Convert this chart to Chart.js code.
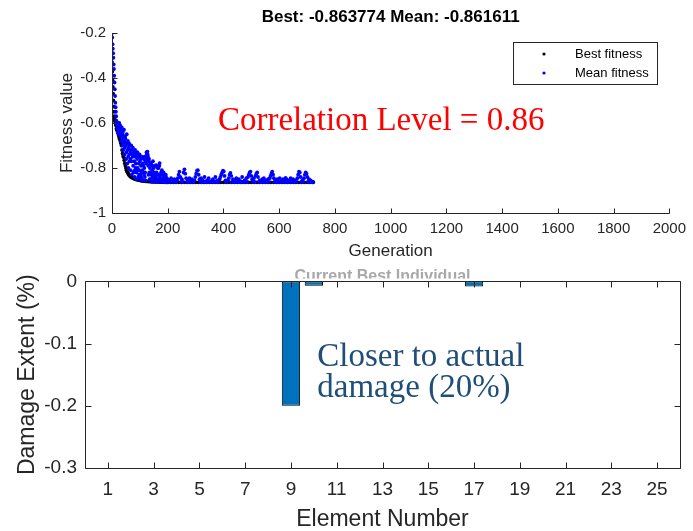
<!DOCTYPE html>
<html><head><meta charset="utf-8">
<script src="https://cdn.jsdelivr.net/npm/chart.js@4.4.1/dist/chart.umd.min.js"></script>
<style>
html,body{margin:0;padding:0;background:#fff;}
#wrap{position:relative;width:693px;height:531px;overflow:hidden;background:#fff;}
#c1{position:absolute;left:0;top:0;}
#c2{position:absolute;left:0;top:262px;}
</style></head><body>
<div id="wrap"><canvas id="c1" width="693" height="262"></canvas><canvas id="c2" width="693" height="269"></canvas></div>
<script>
// ---------- data: top panel (GA fitness history) ----------
const topTitle = 'Best: -0.863774 Mean: -0.861611';
const genTicks = [0,200,400,600,800,1000,1200,1400,1600,1800,2000];
const fitTicks = [-1,-0.8,-0.6,-0.4,-0.2];
const bestGen = [0,1,2,3,4,5,6,7,8,9,10,12,14,16,18,20,22,24,26,28,30,32,34,36,38,40,42,44,46,48,50,52,54,56,58,60,64,68,72,76,80,84,88,92,96,100,104,108,112,116,120,124,130,136,142,148,154,160,166,172,178,184,190,196,
200,210,220,230,240,250,260,270,280,290,300,310,320,330,340,350,360,370,380,390,400,410,420,430,440,450,460,470,480,490,500,510,520,530,540,550,560,570,580,590,600,610,620,630,640,650,660,670,680,690,700,710,720,722];
const bestFit = [-0.329,-0.372,-0.41,-0.44,-0.47,-0.50,-0.527,-0.55,-0.57,-0.58,-0.59,-0.60,-0.61,-0.625,-0.632,-0.64,-0.645,-0.655,-0.665,-0.672,-0.68,-0.69,-0.70,-0.72,-0.735,-0.745,-0.752,-0.765,-0.779,-0.79,-0.80,-0.81,-0.815,-0.82,-0.824,-0.83,-0.836,-0.84,-0.843,-0.846,-0.848,-0.85,-0.851,-0.852,-0.854,-0.855,-0.856,-0.857,-0.858,-0.858,-0.859,-0.859,-0.860,-0.860,-0.861,-0.861,-0.862,-0.862,-0.862,-0.863,-0.863,-0.863,-0.8635,-0.8636,
-0.8636,-0.8636,-0.8636,-0.8636,-0.8636,-0.8636,-0.8636,-0.8636,-0.8636,-0.8636,-0.8636,
-0.8637,-0.8637,-0.8637,-0.8637,-0.8637,-0.8637,-0.8637,-0.8637,-0.8637,-0.8637,-0.8637,-0.8637,-0.8637,-0.8637,-0.8637,-0.8637,-0.8637,-0.8637,-0.8637,-0.8637,
-0.8638,-0.8638,-0.8638,-0.8638,-0.8638,-0.8638,-0.8638,-0.8638,-0.8638,-0.8638,-0.8638,-0.8638,-0.8638,-0.8638,-0.8638,-0.8638,-0.8638,-0.8638,-0.8638,-0.8638,-0.8638,-0.8638,-0.863774];
const meanGen = [0,1,2,3,4,5,6,7,8,9,10,11,12,13,14,15,16,17,
18,20,22,24,26,28,30,32,34,36,38,40,42,44,46,48,50,52,54,56,58,60,62,64,66,68,70,72,74,76,78,80,82,84,86,88,90,92,94,96,
98,100,102,104,106,108,110,112,114,116,118,120,122,124,126,128,130,132,134,136,138,140,142,144,146,148,150,152,154,156,
158,160,162,164,166,168,170,172,174,176,178,180,182,184,186,188,190,192,194,196,198,200,
203,206,209,212,215,218,221,224,227,230,233,236,239,242,245,248,251,254,257,260,263,266,269,272,275,278,281,284,287,290,
293,296,299,302,305,308,311,314,317,320,323,326,329,332,335,338,341,344,347,350,353,356,359,362,365,368,371,374,377,380,
383,386,389,392,395,398,401,404,407,410,413,416,419,422,425,428,431,434,437,440,443,446,449,452,455,458,461,464,467,470,
473,476,479,482,485,488,491,494,497,500,503,506,509,512,515,518,521,524,527,530,533,536,539,542,545,548,551,554,557,560,
563,566,569,572,575,578,581,584,587,590,593,596,599,602,605,608,611,614,617,620,623,626,629,632,635,638,641,644,647,650,
653,656,659,662,665,668,671,674,677,680,683,686,689,692,695,698,701,704,707,710,713,716,719,722];
const meanFit = [-0.20,-0.22,-0.25,-0.27,-0.29,-0.31,-0.34,-0.36,-0.39,-0.42,-0.45,-0.48,-0.51,-0.53,-0.55,-0.57,-0.59,-0.60,
-0.61,-0.60,-0.63,-0.62,-0.60,-0.64,-0.62,-0.66,-0.63,-0.67,
-0.65,-0.69,-0.66,-0.68,-0.71,-0.67,-0.70,-0.73,-0.69,-0.72,
-0.75,-0.71,-0.74,-0.70,-0.76,-0.73,-0.77,-0.72,-0.75,-0.79,
-0.74,-0.77,-0.81,-0.75,-0.78,-0.82,-0.76,-0.80,-0.84,-0.78,
-0.81,-0.77,-0.83,-0.79,-0.82,-0.85,-0.78,-0.82,-0.76,-0.80,
-0.84,-0.77,-0.75,-0.73,-0.76,-0.74,-0.79,-0.77,-0.82,-0.80,
-0.85,-0.78,-0.83,-0.81,-0.86,-0.84,-0.80,-0.85,-0.83,-0.86,
-0.79,-0.82,-0.85,-0.80,-0.86,-0.83,-0.79,-0.84,-0.86,-0.82,
-0.85,-0.86,-0.83,-0.86,-0.84,-0.86,-0.85,-0.862,-0.84,-0.86,
-0.862,-0.85,
-0.862,-0.855,-0.862,-0.845,-0.862,-0.858,-0.862,-0.85,-0.862,-0.862,
-0.855,-0.845,-0.83,-0.816,-0.84,-0.862,-0.85,-0.862,-0.82,-0.806,
-0.825,-0.845,-0.862,-0.855,-0.862,-0.845,-0.862,-0.862,-0.85,-0.862,
-0.862,-0.855,-0.84,-0.825,-0.812,-0.81,-0.83,-0.85,-0.862,-0.845,
-0.862,-0.855,-0.862,-0.84,-0.862,-0.862,-0.855,-0.862,-0.845,-0.862,
-0.862,-0.858,-0.862,-0.85,-0.862,-0.862,-0.84,-0.862,-0.855,-0.862,
-0.862,-0.85,-0.84,-0.83,-0.821,-0.812,-0.815,-0.835,-0.855,-0.862,
-0.862,-0.855,-0.845,-0.83,-0.822,-0.835,-0.862,-0.85,-0.862,-0.855,
-0.862,-0.845,-0.862,-0.862,-0.85,-0.862,-0.858,-0.862,-0.84,-0.862,
-0.862,-0.855,-0.862,-0.845,-0.862,-0.84,-0.83,-0.82,-0.816,-0.835,
-0.85,-0.862,-0.845,-0.862,-0.835,-0.825,-0.82,-0.84,-0.862,-0.855,
-0.862,-0.862,-0.85,-0.862,-0.845,-0.862,-0.862,-0.855,-0.862,-0.85,
-0.862,-0.845,-0.835,-0.825,-0.816,-0.83,-0.845,-0.862,-0.855,-0.862,
-0.85,-0.862,-0.862,-0.845,-0.862,-0.858,-0.862,-0.85,-0.862,-0.862,
-0.844,-0.85,-0.862,-0.862,-0.855,-0.862,-0.845,-0.862,-0.862,-0.85,
-0.862,-0.862,-0.855,-0.862,-0.845,-0.83,-0.816,-0.82,-0.84,-0.862,
-0.855,-0.862,-0.845,-0.83,-0.82,-0.825,-0.84,-0.862,-0.85,-0.862,
-0.855,-0.862,-0.862,-0.8616];
// mean fitness at the odd generations of the early, noisy phase
const meanGenOdd = [19,21,23,25,27,29,31,33,35,37,39,41,43,45,47,49,51,53,55,57,59,61,63,65,67,69,71,73,75,77,
79,81,83,85,87,89,91,93,95,97,99,101,103,105,107,109,111,113,115,117,119,121,123,125,127,129,131,133,135,137,
139,141,143,145,147,149,151,153,155,157,159,161,163,165,167,169,171,173,175,177,179,181,183,185,187,189,191,193,195,197,199];
const meanFitOdd = [-0.62,-0.64,-0.61,-0.65,-0.63,-0.61,-0.65,-0.68,-0.62,-0.70,
-0.64,-0.72,-0.63,-0.74,-0.66,-0.69,-0.76,-0.65,-0.78,-0.68,
-0.80,-0.69,-0.77,-0.72,-0.81,-0.70,-0.83,-0.74,-0.71,-0.82,
-0.73,-0.84,-0.72,-0.80,-0.74,-0.85,-0.73,-0.81,-0.75,-0.83,
-0.74,-0.85,-0.76,-0.84,-0.75,-0.81,-0.855,-0.79,-0.83,-0.75,
-0.82,-0.856,-0.78,-0.74,-0.727,-0.75,-0.83,-0.76,-0.85,-0.78,
-0.82,-0.86,-0.79,-0.84,-0.77,-0.86,-0.82,-0.79,-0.86,-0.84,
-0.787,-0.86,-0.83,-0.85,-0.80,-0.86,-0.778,-0.85,-0.83,-0.86,
-0.81,-0.86,-0.85,-0.82,-0.86,-0.84,-0.862,-0.83,-0.86,-0.85,
-0.862];
const correlationNote = 'Correlation Level = 0.86';

// ---------- data: bottom panel (damage extent) ----------
const bottomTitle = 'Current Best Individual';
const elements = [1,2,3,4,5,6,7,8,9,10,11,12,13,14,15,16,17,18,19,20,21,22,23,24,25];
const damage = [0,0,0,0,0,0,0,0,-0.2,-0.007,0,0,0,0,0,0,-0.008,0,0,0,0,0,0,0,0];
const elementTicks = [1,3,5,7,9,11,13,15,17,19,21,23,25];
const damageTicks = [-0.3,-0.2,-0.1,0];
const damageNote = ['Closer to actual', 'damage (20%)'];

// ---------- styling ----------
const SANS = '"Liberation Sans", Arial, Helvetica, sans-serif';
const SERIF = '"Liberation Serif", "Times New Roman", serif';
const AXIS = '#262626';
Chart.defaults.font.family = SANS;
Chart.defaults.color = AXIS;

function matlabAxes(xTicks, yTicks, box, len) {
  return { id: 'matlabAxes', afterDraw(chart) {
    const {ctx, chartArea: a, scales: {x, y}} = chart;
    const s = v => Math.round(v) + 0.5;
    const l = s(a.left), r = s(a.right), t = s(a.top), b = s(a.bottom);
    ctx.save(); ctx.strokeStyle = AXIS; ctx.lineWidth = 1; ctx.beginPath();
    ctx.moveTo(l, t); ctx.lineTo(l, b); ctx.lineTo(r, b);
    if (box) { ctx.lineTo(r, t); ctx.lineTo(l, t); }
    xTicks.forEach(v => { const p = s(x.getPixelForValue(v)); ctx.moveTo(p, b); ctx.lineTo(p, b - len); if (box) { ctx.moveTo(p, t); ctx.lineTo(p, t + len); } });
    yTicks.forEach(v => { const p = s(y.getPixelForValue(v)); ctx.moveTo(l, p); ctx.lineTo(l + len, p); if (box) { ctx.moveTo(r, p); ctx.lineTo(r - len, p); } });
    ctx.stroke(); ctx.restore();
  }};
}
function notes(lines, xv, yv, font, color, lh) {
  return { id: 'notes', afterDraw(chart) {
    const {ctx, scales: {x, y}} = chart;
    ctx.save(); ctx.font = font; ctx.fillStyle = color; ctx.textAlign = 'left'; ctx.textBaseline = 'alphabetic';
    lines.forEach((s, i) => ctx.fillText(s, x.getPixelForValue(xv), y.getPixelForValue(yv) + i * lh));
    ctx.restore();
  }};
}
const legendBox = { id: 'legendBox', afterDraw(chart) {
  const ctx = chart.ctx; const bx = 513, by = 42, bw = 144, bh = 42;
  ctx.save(); ctx.fillStyle = '#fff'; ctx.fillRect(bx, by, bw, bh);
  ctx.strokeStyle = AXIS; ctx.lineWidth = 1; ctx.strokeRect(bx + 0.5, by + 0.5, bw, bh);
  chart.data.datasets.forEach((d, i) => {
    const cy = by + 12 + i * 19;
    ctx.fillStyle = d.backgroundColor; ctx.beginPath(); ctx.arc(544, cy, 1.6, 0, Math.PI * 2); ctx.fill();
    ctx.fillStyle = '#000'; ctx.font = '13px ' + SANS; ctx.textAlign = 'left'; ctx.textBaseline = 'middle';
    ctx.fillText(d.label, 575, cy);
  });
  ctx.restore();
}};
// the lower panel's title sits mostly behind its own axes: only its upper part shows
const hiddenTitle = { id: 'hiddenTitle', afterDraw(chart) {
  const {ctx, chartArea: a} = chart;
  ctx.save(); ctx.beginPath(); ctx.rect(0, 0, chart.width, a.top - 3); ctx.clip();
  ctx.font = 'bold 16px ' + SANS; ctx.fillStyle = '#a8a8a8'; ctx.textAlign = 'center'; ctx.textBaseline = 'top';
  ctx.fillText(bottomTitle, (a.left + a.right) / 2, 7);
  ctx.restore();
}};

const meanPoints = meanGen.map((g, i) => ({x: g, y: meanFit[i]}))
  .concat(meanGenOdd.map((g, i) => ({x: g, y: meanFitOdd[i]})));

// ---------- top chart ----------
new Chart(document.getElementById('c1'), {
  type: 'scatter',
  data: { datasets: [
    { label: 'Best fitness', data: bestGen.map((g, i) => ({x: g, y: bestFit[i]})), backgroundColor: '#000000', borderColor: '#000000', pointRadius: 1.9, pointBorderWidth: 0, order: 1 },
    { label: 'Mean fitness', data: meanPoints, backgroundColor: '#0000ff', borderColor: '#0000ff', pointRadius: 1.9, pointBorderWidth: 0, order: 0 }
  ]},
  options: {
    responsive: false, animation: false, devicePixelRatio: 1,
    layout: { padding: { top: 1.8, right: 21, left: 0, bottom: 0 } },
    plugins: {
      legend: { display: false }, tooltip: { enabled: false },
      title: { display: true, text: topTitle, fullSize: false, color: '#000', font: { size: 17, weight: 'bold', lineHeight: 1.2 }, padding: { top: 5, bottom: 5.8 } }
    },
    scales: {
      x: { type: 'linear', min: 0, max: 2000,
        afterBuildTicks: s => { s.ticks = genTicks.map(v => ({value: v})); },
        afterFit: s => { s.height = 49; },
        grid: { display: false, drawTicks: false }, border: { display: false },
        ticks: { font: { size: 15 }, color: AXIS, padding: 7, maxRotation: 0, autoSkip: false, callback: v => String(v) },
        title: { display: true, text: 'Generation', color: AXIS, font: { size: 17, lineHeight: 1 }, padding: { top: 0, bottom: 2.5 } } },
      y: { type: 'linear', min: -1, max: -0.2,
        afterBuildTicks: s => { s.ticks = fitTicks.map(v => ({value: v})); },
        afterFit: s => { s.width = 112; },
        grid: { display: false, drawTicks: false }, border: { display: false },
        ticks: { font: { size: 15 }, color: AXIS, padding: 6, autoSkip: false, callback: v => String(v) },
        title: { display: true, text: 'Fitness value', color: AXIS, font: { size: 17, lineHeight: 1 }, padding: { top: 58.5, bottom: 0 } } }
    }
  },
  plugins: [matlabAxes(genTicks, fitTicks, false, 5), notes([correlationNote], 380, -0.631, '33px ' + SERIF, '#ff0000', 0), legendBox]
});

// ---------- bottom chart ----------
new Chart(document.getElementById('c2'), {
  type: 'bar',
  data: { datasets: [
    { label: 'Damage Extent', data: elements.map((e, i) => ({x: e, y: damage[i]})), backgroundColor: '#0072bd', borderColor: '#000000', borderWidth: 1, borderSkipped: false, barPercentage: 0.8, categoryPercentage: 1 }
  ]},
  options: {
    responsive: false, animation: false, devicePixelRatio: 1,
    layout: { padding: { top: 16, right: 13, left: 0, bottom: 0 } },
    plugins: { legend: { display: false }, tooltip: { enabled: false }, title: { display: false } },
    scales: {
      x: { type: 'linear', min: 0, max: 26, offset: false,
        afterBuildTicks: s => { s.ticks = elementTicks.map(v => ({value: v})); },
        afterFit: s => { s.height = 63; },
        grid: { display: false, drawTicks: false, offset: false }, border: { display: false },
        ticks: { font: { size: 19 }, color: AXIS, padding: 10, maxRotation: 0, autoSkip: false, callback: v => String(v) },
        title: { display: true, text: 'Element Number', color: AXIS, font: { size: 23, lineHeight: 1 }, padding: { top: 0, bottom: 0 } } },
      y: { type: 'linear', min: -0.3, max: 0,
        afterBuildTicks: s => { s.ticks = damageTicks.map(v => ({value: v})); },
        afterFit: s => { s.width = 85; },
        grid: { display: false, drawTicks: false }, border: { display: false },
        ticks: { font: { size: 19 }, color: AXIS, padding: 8, autoSkip: false, callback: v => String(v) },
        title: { display: true, text: 'Damage Extent (%)', color: AXIS, font: { size: 23, lineHeight: 1 }, padding: { top: 16.5, bottom: 0 } } }
    }
  },
  plugins: [matlabAxes(elementTicks, damageTicks, true, 6), notes(damageNote, 10.15, -0.1358, '33px ' + SERIF, '#1f4e79', 31), hiddenTitle]
});
</script>
</body></html>
